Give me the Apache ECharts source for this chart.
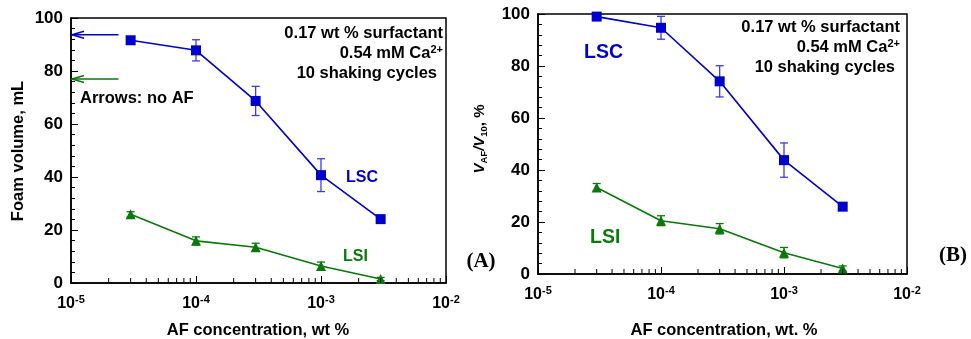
<!DOCTYPE html>
<html>
<head>
<meta charset="utf-8">
<script src="https://cdn.jsdelivr.net/npm/echarts@6/dist/echarts.min.js"></script>
<style>
  html, body { margin: 0; padding: 0; background: #fff; }
  #chart { width: 971px; height: 339px; }
</style>
</head>
<body>
<div id="chart"></div>
<script>
// AF concentration, wt %
const conc = [3e-5, 1e-4, 3e-4, 1e-3, 3e-3];

// Panel A: foam volume, mL
const aLscVol = [91.6, 87.8, 68.7, 40.7, 24.1];
const aLscErr = [0, 4.0, 5.5, 6.2, 0];
const aLsiVol = [25.9, 15.9, 13.5, 6.4, 1.5];
const aLsiErr = [1.0, 1.5, 1.5, 1.5, 0.6];

// no-AF reference arrows (panel A): LSC, LSI
const noAfVol = [93.7, 77.0];
const arrowStartConc = 2.4e-5;

// Panel B: V_AF / V_10, %
const bLscPct = [99.0, 94.7, 74.1, 43.8, 25.9];
const bLscErr = [0, 4.4, 6.0, 6.6, 0];
const bLsiPct = [33.3, 20.5, 17.4, 8.2, 2.1];
const bLsiErr = [1.5, 1.9, 2.0, 2.0, 1.0];

// log axis minor ticks
const decades = [-5, -4, -3];
const minorMult = [2, 3, 4, 5, 6, 7, 8, 9];

const BLUE = '#0000cc';
const BLUE_ERR = '#3c3ce6';
const GREEN = '#0a780a';
const FONT = 'Liberation Sans, Arial, sans-serif';
const SERIF = 'Liberation Serif, Times New Roman, serif';

const chart = echarts.init(document.getElementById('chart'), null, {renderer: 'canvas'});

const minorTicks = [];
decades.forEach((d) => minorMult.forEach((m) => minorTicks.push([m * Math.pow(10, d)])));

function pair(xs, ys) {
  return xs.map((x, i) => [x, ys[i]]);
}

function errData(xs, ys, es) {
  return xs.map((x, i) => [x, ys[i], es[i]]).filter((d) => d[2] > 0);
}

function xAxis(gridIndex) {
  return {
    type: 'log',
    logBase: 10,
    gridIndex,
    min: 1e-5,
    max: 1e-2,
    axisLine: {lineStyle: {color: '#000', width: 1.5}},
    axisTick: {inside: true, length: 7, lineStyle: {color: '#000', width: 1}},
    splitLine: {show: false},
    axisLabel: {
      margin: 11,
      formatter: (v) => `{b|10}{s|${Math.round(Math.log10(v))}}`,
      rich: {
        b: {fontFamily: FONT, fontSize: 16, fontWeight: 'bold', color: '#000', lineHeight: 19},
        s: {fontFamily: FONT, fontSize: 11, fontWeight: 'bold', color: '#000', verticalAlign: 'top', lineHeight: 11}
      }
    }
  };
}

function yAxis(gridIndex) {
  return {
    type: 'value',
    gridIndex,
    min: 0,
    max: 100,
    interval: 20,
    axisLine: {show: true, lineStyle: {color: '#000', width: 1.5}},
    axisTick: {inside: true, length: 7, lineStyle: {color: '#000'}},
    minorTick: {show: true, splitNumber: 5, length: 4, lineStyle: {color: '#000'}},
    splitLine: {show: false},
    axisLabel: {margin: 8, fontFamily: FONT, fontSize: 17, fontWeight: 'bold', color: '#000'}
  };
}

function minorTickSeries(idx) {
  return {
    type: 'custom',
    xAxisIndex: idx,
    yAxisIndex: idx,
    silent: true,
    clip: false,
    z: 3,
    data: minorTicks,
    renderItem: (params, api) => {
      const p = api.coord([api.value(0), 0]);
      return {
        type: 'line',
        shape: {x1: p[0], y1: p[1], x2: p[0], y2: p[1] - 5},
        style: {stroke: '#000', lineWidth: 1}
      };
    }
  };
}

function errorSeries(idx, data, color) {
  return {
    type: 'custom',
    xAxisIndex: idx,
    yAxisIndex: idx,
    silent: true,
    z: 1,
    data,
    renderItem: (params, api) => {
      const x = api.value(0), y = api.value(1), e = api.value(2);
      const hi = api.coord([x, y + e]);
      const lo = api.coord([x, y - e]);
      const w = 4;
      const style = {stroke: color, lineWidth: 1.3};
      return {
        type: 'group',
        children: [
          {type: 'line', shape: {x1: hi[0], y1: hi[1], x2: lo[0], y2: lo[1]}, style},
          {type: 'line', shape: {x1: hi[0] - w, y1: hi[1], x2: hi[0] + w, y2: hi[1]}, style},
          {type: 'line', shape: {x1: lo[0] - w, y1: lo[1], x2: lo[0] + w, y2: lo[1]}, style}
        ]
      };
    }
  };
}

function lineSeries(idx, data, color, symbol, size) {
  return {
    type: 'line',
    xAxisIndex: idx,
    yAxisIndex: idx,
    data,
    z: 2,
    symbol,
    symbolSize: size,
    showAllSymbol: true,
    lineStyle: {color, width: 1.6},
    itemStyle: {color, borderWidth: 0},
    animation: false
  };
}

const arrowColors = [BLUE, GREEN];

const arrowSeries = {
  type: 'custom',
  xAxisIndex: 0,
  yAxisIndex: 0,
  silent: true,
  clip: false,
  z: 4,
  data: noAfVol.map((v) => [arrowStartConc, v]),
  renderItem: (params, api) => {
    const s = api.coord([api.value(0), api.value(1)]);
    const e = api.coord([1e-5, api.value(1)]);
    const style = {stroke: arrowColors[params.dataIndex], lineWidth: 1.5, fill: null};
    return {
      type: 'group',
      children: [
        {type: 'line', shape: {x1: s[0], y1: s[1], x2: e[0] + 1, y2: e[1]}, style},
        {type: 'polyline', shape: {points: [[e[0] + 13, e[1] - 3.5], [e[0] + 1, e[1]], [e[0] + 13, e[1] + 3.5]]}, style}
      ]
    };
  }
};

function txt(x, y, text, opts) {
  return {
    type: 'text',
    x,
    y,
    silent: true,
    rotation: opts.rotation || 0,
    style: Object.assign({
      text,
      fill: '#000',
      fontFamily: FONT,
      fontWeight: 'bold',
      fontSize: 16.5,
      textAlign: 'left',
      textVerticalAlign: 'middle'
    }, opts.style || {})
  };
}

const supRich = {
  sup: {fontFamily: FONT, fontSize: 11, fontWeight: 'bold', fill: '#000', verticalAlign: 'top', lineHeight: 11}
};

const graphics = [
  // panel A
  txt(443, 33, '0.17 wt % surfactant', {style: {textAlign: 'right'}}),
  txt(443, 53, '0.54 mM Ca{sup|2+}', {style: {textAlign: 'right', rich: supRich}}),
  txt(437, 73, '10 shaking cycles', {style: {textAlign: 'right'}}),
  txt(80, 98, 'Arrows: no AF', {}),
  txt(346, 178, 'LSC', {style: {fontSize: 16, fill: BLUE}}),
  txt(343, 257, 'LSI', {style: {fontSize: 16, fill: GREEN}}),
  txt(258, 330, 'AF concentration, wt %', {style: {textAlign: 'center'}}),
  txt(18, 151, 'Foam volume, mL', {rotation: Math.PI / 2, style: {textAlign: 'center'}}),
  txt(481, 262, '(A)', {style: {textAlign: 'center', fontSize: 21, fontFamily: SERIF}}),
  // panel B
  txt(900, 27, '0.17 wt % surfactant', {style: {textAlign: 'right'}}),
  txt(900, 47, '0.54 mM Ca{sup|2+}', {style: {textAlign: 'right', rich: supRich}}),
  txt(895, 67, '10 shaking cycles', {style: {textAlign: 'right'}}),
  txt(584, 53, 'LSC', {style: {fontSize: 19.5, fill: BLUE}}),
  txt(590, 238, 'LSI', {style: {fontSize: 19.5, fill: GREEN}}),
  txt(724, 330, 'AF concentration, wt. %', {style: {textAlign: 'center'}}),
  txt(480, 139, '{i|V}{sub|AF}{i|/V}{sub|10}, %', {
    rotation: Math.PI / 2,
    style: {
      textAlign: 'center',
      fontSize: 15,
      rich: {
        i: {fontFamily: FONT, fontSize: 15, fontWeight: 'bold', fontStyle: 'italic', fill: '#000', lineHeight: 18},
        sub: {fontFamily: FONT, fontSize: 9.5, fontWeight: 'bold', fill: '#000', verticalAlign: 'bottom', lineHeight: 10}
      }
    }
  }),
  txt(953, 256, '(B)', {style: {textAlign: 'center', fontSize: 21, fontFamily: SERIF}})
];

chart.setOption({
  backgroundColor: '#fff',
  animation: false,
  grid: [
    {left: 71, top: 18, width: 375, height: 265, show: true, borderColor: '#000', borderWidth: 1.5, containLabel: false},
    {left: 538, top: 14, width: 369, height: 260, show: true, borderColor: '#000', borderWidth: 1.5, containLabel: false}
  ],
  xAxis: [xAxis(0), xAxis(1)],
  yAxis: [yAxis(0), yAxis(1)],
  series: [
    minorTickSeries(0),
    minorTickSeries(1),
    errorSeries(0, errData(conc, aLscVol, aLscErr), BLUE_ERR),
    errorSeries(0, errData(conc, aLsiVol, aLsiErr), GREEN),
    lineSeries(0, pair(conc, aLscVol), BLUE, 'rect', 10),
    lineSeries(0, pair(conc, aLsiVol), GREEN, 'triangle', 10),
    arrowSeries,
    errorSeries(1, errData(conc, bLscPct, bLscErr), BLUE_ERR),
    errorSeries(1, errData(conc, bLsiPct, bLsiErr), GREEN),
    lineSeries(1, pair(conc, bLscPct), BLUE, 'rect', 10),
    lineSeries(1, pair(conc, bLsiPct), GREEN, 'triangle', 10)
  ],
  graphic: graphics
});

window.addEventListener('resize', () => chart.resize());
</script>
</body>
</html>
